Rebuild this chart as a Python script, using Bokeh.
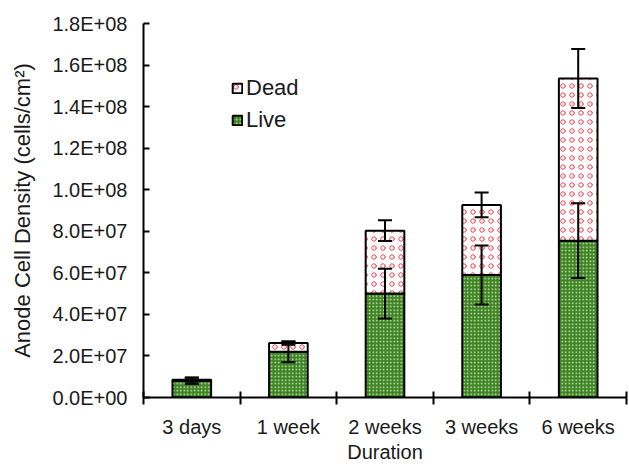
import numpy as np
from bokeh.plotting import figure
from bokeh.models import (ColumnDataSource, Whisker, TeeHead, FixedTicker, Range1d,
                          Legend, LegendItem)
from bokeh.embed import file_html
from bokeh.resources import INLINE

categories = ["3 days", "1 week", "2 weeks", "3 weeks", "6 weeks"]
live = [8.0e6, 2.2e7, 5.0e7, 5.9e7, 7.55e7]
dead = [0.6e6, 0.42e7, 3.03e7, 3.37e7, 7.8e7]
live_err = [1.5e6, 5.0e6, 1.2e7, 1.42e7, 1.8e7]
total_err = [1.0e6, 0.8e6, 5.0e6, 6.0e6, 1.42e7]
y_ticks = [0, 2e7, 4e7, 6e7, 8e7, 1e8, 1.2e8, 1.4e8, 1.6e8, 1.8e8]
y_tick_labels = ["0.0E+00", "2.0E+07", "4.0E+07", "6.0E+07", "8.0E+07",
                 "1.0E+08", "1.2E+08", "1.4E+08", "1.6E+08", "1.8E+08"]

x = np.arange(len(categories)) + 0.5
live_a = np.array(live)
dead_a = np.array(dead)
total = live_a + dead_a

src = ColumnDataSource(dict(
    x=x, live=live_a, total=total,
    live_up=live_a + np.array(live_err), live_lo=live_a - np.array(live_err),
    tot_up=total + np.array(total_err), tot_lo=total - np.array(total_err),
))

FONT = "Liberation Sans"
TXT = "#1a1a1a"
FS = "20px"

p = figure(width=628, height=466, output_backend="svg", toolbar_location=None,
           x_range=Range1d(0, len(categories)), y_range=Range1d(0, 1.8e8),
           min_border_left=143, min_border_right=2, min_border_top=23, min_border_bottom=69)
p.outline_line_color = None
p.xgrid.visible = False
p.ygrid.visible = False

r_live = p.vbar(x="x", bottom=0, top="live", width=0.4, source=src,
                fill_color="#3b8220", line_color="black", line_width=2,
                hatch_pattern="dot", hatch_color="#d5ebc4", hatch_scale=3.5, hatch_weight=1.2)
r_dead = p.vbar(x="x", bottom="live", top="total", width=0.4, source=src,
                fill_color="white", line_color="black", line_width=2,
                hatch_pattern="ring", hatch_color="#e8283a", hatch_alpha=0.85,
                hatch_scale=9, hatch_weight=1)

for up, lo in (("tot_up", "tot_lo"), ("live_up", "live_lo")):
    w = Whisker(base="x", upper=up, lower=lo, source=src, line_width=2, line_color="black",
                level="annotation",
                upper_head=TeeHead(size=14, line_width=2, line_color="black"),
                lower_head=TeeHead(size=14, line_width=2, line_color="black"))
    p.add_layout(w)

# axes
xa = p.xaxis[0]
xa.ticker = FixedTicker(ticks=list(x), minor_ticks=list(range(len(categories) + 1)))
xa.major_label_overrides = {float(v): c for v, c in zip(x, categories)}
xa.major_tick_in = 0
xa.major_tick_out = 0
xa.minor_tick_in = 6
xa.minor_tick_out = 7
xa.minor_tick_line_width = 2
xa.minor_tick_line_color = "black"
xa.axis_line_width = 2
xa.axis_line_color = "black"
xa.major_label_standoff = 11
xa.axis_label = "Duration"
xa.axis_label_standoff = 0

ya = p.yaxis[0]
ya.ticker = FixedTicker(ticks=y_ticks)
ya.major_label_overrides = {float(v): s for v, s in zip(y_ticks, y_tick_labels)}
ya.major_tick_in = 6
ya.major_tick_out = 0
ya.major_tick_line_width = 2
ya.major_tick_line_color = "black"
ya.minor_tick_line_color = None
ya.axis_line_width = 2
ya.axis_line_color = "black"
ya.major_label_standoff = 16
ya.axis_label = "Anode Cell Density (cells/cm\u00b2)"
ya.axis_label_standoff = 14

for ax in (xa, ya):
    ax.major_label_text_font = FONT
    ax.major_label_text_font_size = FS
    ax.major_label_text_color = TXT
    ax.axis_label_text_font = FONT
    ax.axis_label_text_font_size = FS
    ax.axis_label_text_font_style = "normal"
    ax.axis_label_text_color = TXT
ya.axis_label_text_font_size = "22px"

legend = Legend(items=[LegendItem(label="Dead", renderers=[r_dead]),
                       LegendItem(label="Live", renderers=[r_live])],
                location=(88, 263), padding=0, margin=0, spacing=3,
                glyph_width=12, glyph_height=12, label_height=29, label_standoff=3,
                label_text_font=FONT, label_text_font_size="22px", label_text_color=TXT,
                border_line_color=None, background_fill_alpha=0)
p.add_layout(legend)

open("out.html", "w").write(file_html(p, INLINE))
